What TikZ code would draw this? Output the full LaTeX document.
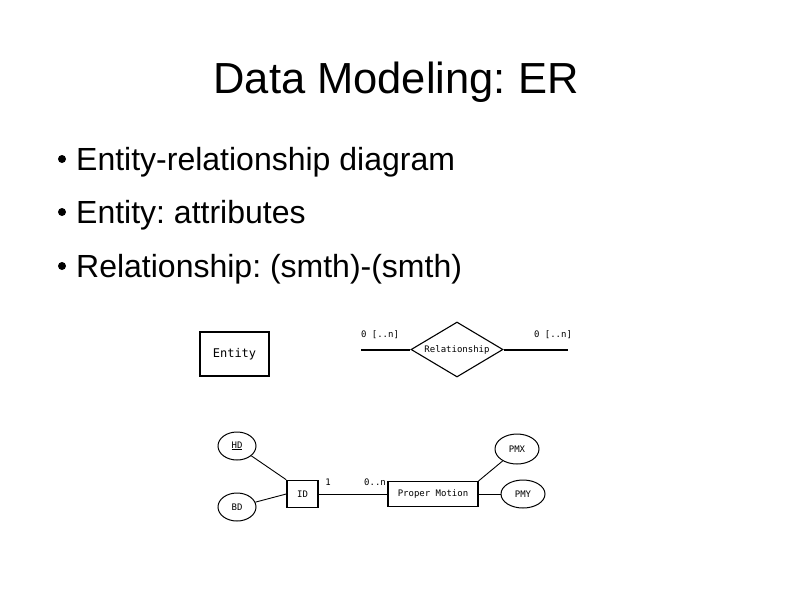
\documentclass[tikz,border=0pt]{standalone}
\usepackage{fontspec}
\setmainfont{Liberation Sans}
\newfontfamily\diagfont{DejaVu Sans Mono}
\usetikzlibrary{shapes.geometric}
\frenchspacing
\begin{document}
\begin{tikzpicture}[x=1pt,y=-1pt,
  bullettext/.style={anchor=base west,font=\fontsize{32}{36}\selectfont,inner sep=0},
  bulletdot/.style={fill=black,circle,inner sep=0,minimum size=8pt},
  ebox/.style={draw,line width=1.6pt,inner sep=0},
  oval/.style={draw,ellipse,line width=1pt,inner sep=0},
  lbl/.style={font=\diagfont\fontsize{9}{10}\selectfont,inner sep=0},
  conn/.style={line width=0.9pt}]
\useasboundingbox (0,0) rectangle (794,595);
\fill[white] (0,0) rectangle (794,595);
\node[anchor=base,font=\fontsize{43.5}{48}\selectfont,inner sep=0] (title) at (396,93) {Data Modeling: ER};
\node[bulletdot] (b1) at (62,159) {};
\node[bullettext] (t1) at (76,170) {Entity-relationship diagram};
\node[bulletdot] (b2) at (62,212) {};
\node[bullettext] (t2) at (76,223) {Entity: attributes};
\node[bulletdot] (b3) at (62,266) {};
\node[bullettext] (t3) at (76,277) {Relationship: (smth)-(smth)};
% Entity
\node[ebox,minimum width=69pt,minimum height=44pt,font=\diagfont\fontsize{12}{14}\selectfont] (entity) at (234.5,354) {Entity};
% Relationship
\node[draw,diamond,line width=1.1pt,minimum width=92pt,minimum height=55pt,inner sep=0,aspect=1.67,lbl] (rel) at (457,349.5) {Relationship};
\coordinate (rl) at (361,349.5);
\coordinate (rr) at (568,349.5);
\draw[line width=2pt] (rl) -- (rel.west);
\draw[line width=2pt] (rel.east) -- (rr);
\node[lbl] (c1) at (380,335) {0 [..n]};
\node[lbl] (c2) at (553,335) {0 [..n]};
% lower diagram
\node[ebox,minimum width=31pt,minimum height=27pt,lbl] (id) at (302.5,494) {ID};
\node[draw,line width=1.1pt,minimum width=90pt,minimum height=25pt,inner sep=0,lbl] (pm) at (433,494) {Proper Motion};
\node[oval,minimum width=38pt,minimum height=28pt,lbl] (hd) at (237,446) {\underline{HD}};
\node[oval,minimum width=38pt,minimum height=28pt,lbl] (bd) at (237,507) {BD};
\node[oval,minimum width=44pt,minimum height=30pt,lbl] (pmx) at (517,449) {PMX};
\node[oval,minimum width=44pt,minimum height=28pt,lbl] (pmy) at (523,494) {PMY};
\draw[conn] (hd) -- (id.north west);
\draw[conn] (bd) -- (id.west);
\draw[conn] (id.east) -- (pm.west);
\draw[conn] (pm.north east) -- (pmx);
\draw[conn] (pm.east) -- (pmy);
\node[lbl] (one) at (328,482) {1};
\node[lbl] (zn) at (375,482) {0..n};
\end{tikzpicture}
\end{document}
